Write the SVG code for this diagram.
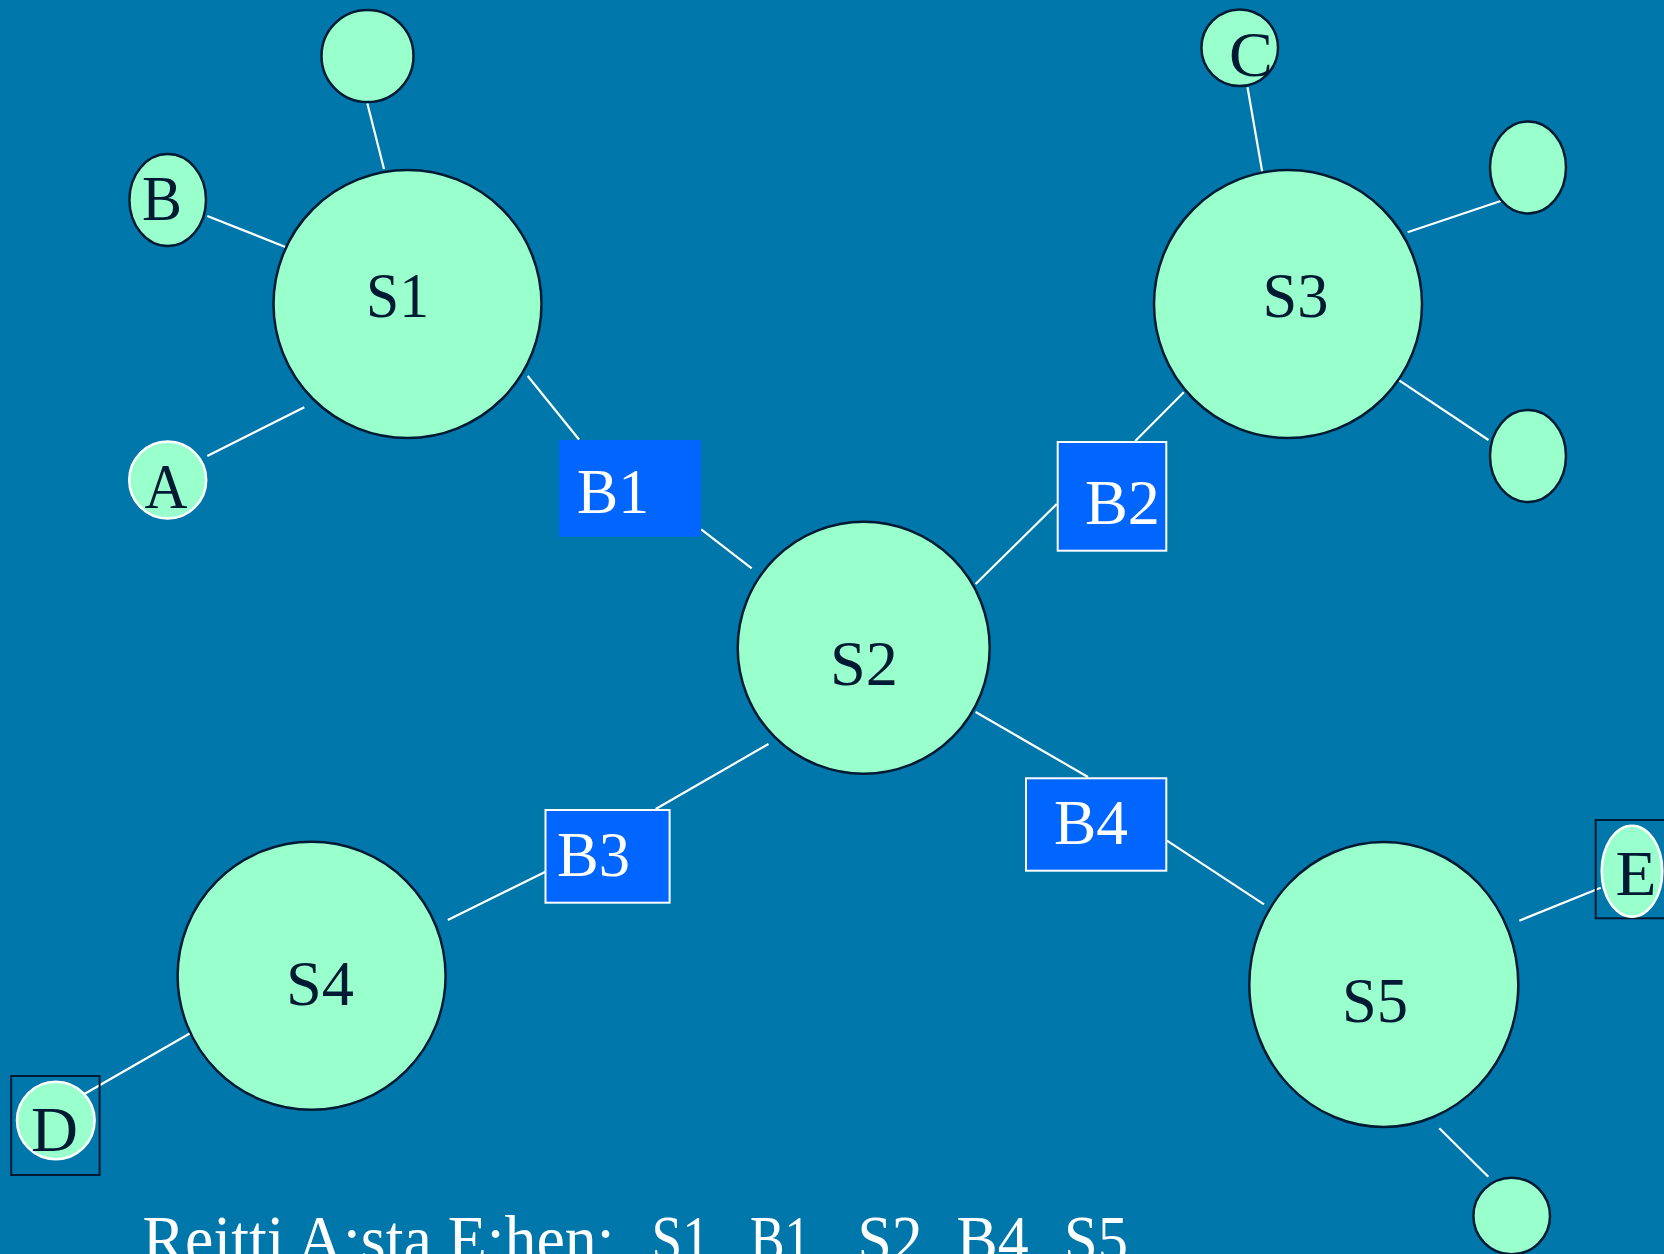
<svg xmlns="http://www.w3.org/2000/svg" width="1664" height="1254" viewBox="0 0 1664 1254">
<style>
.n{fill:#99FFCC;stroke:#001A33;stroke-width:2.5}
.nw{fill:#99FFCC;stroke:#FFFFFF;stroke-width:2.5}
.b{fill:#0066FF}
.bw{fill:#0066FF;stroke:#FFFFFF;stroke-width:2}
.sq{fill:none;stroke:#001A33;stroke-width:2}
.t{font-family:"Liberation Serif","Times New Roman",serif;font-size:64px;fill:#001A33}
.tw{font-family:"Liberation Serif","Times New Roman",serif;font-size:64px;fill:#FFFFFF}
.cap{font-family:"Liberation Serif","Times New Roman",serif;font-size:68px;fill:#FFFFFF}
.c line{stroke:#FFFFFF;stroke-width:2.2}
</style>
<rect width="1664" height="1254" fill="#0077AA"/>
<g class="c" id="connectors">
<line x1="367.3" y1="103.3" x2="384" y2="169"/>
<line x1="207.3" y1="216" x2="287.3" y2="247.7"/>
<line x1="207.3" y1="456" x2="304.3" y2="407.3"/>
<line x1="527.7" y1="376" x2="579" y2="439.5"/>
<line x1="701.2" y1="529.3" x2="751.7" y2="568.3"/>
<line x1="1247.5" y1="87.3" x2="1264.4" y2="184.3"/>
<line x1="1407.6" y1="232.3" x2="1503.6" y2="200"/>
<line x1="1392" y1="375.7" x2="1488.5" y2="440"/>
<line x1="1183.8" y1="392.3" x2="1135.3" y2="441"/>
<line x1="1056.8" y1="504" x2="975.6" y2="584"/>
<line x1="768.5" y1="744" x2="655.7" y2="809"/>
<line x1="975.6" y1="712" x2="1088" y2="777"/>
<line x1="545.5" y1="871.7" x2="447.8" y2="920"/>
<line x1="191" y1="1032.7" x2="82.6" y2="1095"/>
<line x1="1167" y1="840.7" x2="1264" y2="904.3"/>
<line x1="1519.3" y1="920.7" x2="1600.7" y2="887.7"/>
<line x1="1439.3" y1="1128.3" x2="1488.3" y2="1176.7"/>
</g>
<g id="S1"><circle class="n" cx="407.5" cy="304" r="134"/><text class="t" x="366" y="316.7" textLength="63" lengthAdjust="spacingAndGlyphs">S1</text></g>
<g id="S1-top"><circle class="n" cx="367.5" cy="56" r="46"/></g>
<g id="B"><ellipse class="n" cx="167.7" cy="200" rx="38.3" ry="46"/><text class="t" x="142" y="220" textLength="40" lengthAdjust="spacingAndGlyphs">B</text></g>
<g id="A"><circle class="nw" cx="167.7" cy="480" r="38.5"/><text class="t" x="144.5" y="508.3" textLength="43" lengthAdjust="spacingAndGlyphs">A</text></g>
<g id="S3"><circle class="n" cx="1288" cy="304" r="134"/><text class="t" x="1262.5" y="316.7" textLength="66" lengthAdjust="spacingAndGlyphs">S3</text></g>
<g id="C"><circle class="n" cx="1239.7" cy="47.7" r="38.3"/><text class="t" x="1229" y="76" textLength="44" lengthAdjust="spacingAndGlyphs">C</text></g>
<g id="S3-right-top"><ellipse class="n" cx="1528" cy="167.5" rx="38" ry="46"/></g>
<g id="S3-right-bottom"><ellipse class="n" cx="1528" cy="456" rx="38" ry="46"/></g>
<g id="B1"><rect class="b" x="558.9" y="440" width="141.9" height="96.7"/><text class="tw" x="577" y="512.7" textLength="72" lengthAdjust="spacingAndGlyphs">B1</text></g>
<g id="B2"><rect class="bw" x="1057.7" y="442" width="108.6" height="108.7"/><text class="tw" x="1085" y="524.3" textLength="75" lengthAdjust="spacingAndGlyphs">B2</text></g>
<g id="S2"><circle class="n" cx="863.7" cy="647.8" r="126"/><text class="t" x="830" y="685" textLength="68" lengthAdjust="spacingAndGlyphs">S2</text></g>
<g id="B3"><rect class="bw" x="545.5" y="810" width="124.1" height="92.7"/><text class="tw" x="557" y="876" textLength="73" lengthAdjust="spacingAndGlyphs">B3</text></g>
<g id="B4"><rect class="bw" x="1026" y="778.3" width="140.3" height="92.4"/><text class="tw" x="1054" y="844.3" textLength="74" lengthAdjust="spacingAndGlyphs">B4</text></g>
<g id="S4"><circle class="n" cx="311.6" cy="975.8" r="134"/><text class="t" x="286" y="1005" textLength="68" lengthAdjust="spacingAndGlyphs">S4</text></g>
<g id="D"><rect class="sq" x="11.2" y="1076" width="88.4" height="99"/><circle class="nw" cx="55.8" cy="1120.5" r="38.8"/><text class="t" x="31" y="1150.7" textLength="47" lengthAdjust="spacingAndGlyphs">D</text></g>
<g id="S5"><ellipse class="n" cx="1383.8" cy="984.5" rx="134.5" ry="142.5"/><text class="t" x="1342" y="1021.7" textLength="66" lengthAdjust="spacingAndGlyphs">S5</text></g>
<g id="E"><rect class="sq" x="1595.7" y="820" width="70" height="98.3"/><ellipse class="nw" cx="1632" cy="871.2" rx="30.3" ry="45.5"/><text class="t" x="1615.5" y="895" textLength="41" lengthAdjust="spacingAndGlyphs">E</text></g>
<g id="S5-bottom"><circle class="n" cx="1511.7" cy="1216" r="38.3"/></g>
<g id="caption">
<text class="cap" x="142.5" y="1262" textLength="472" lengthAdjust="spacingAndGlyphs">Reitti A:sta E:hen:</text>
<text class="cap" x="651.5" y="1262" textLength="72" lengthAdjust="spacingAndGlyphs">S1,</text>
<text class="cap" x="750" y="1262" textLength="73.5" lengthAdjust="spacingAndGlyphs">B1,</text>
<text class="cap" x="857.5" y="1262" textLength="80.5" lengthAdjust="spacingAndGlyphs">S2,</text>
<text class="cap" x="956.5" y="1262" textLength="87.5" lengthAdjust="spacingAndGlyphs">B4,</text>
<text class="cap" x="1064" y="1262" textLength="64" lengthAdjust="spacingAndGlyphs">S5</text>
</g>
</svg>
